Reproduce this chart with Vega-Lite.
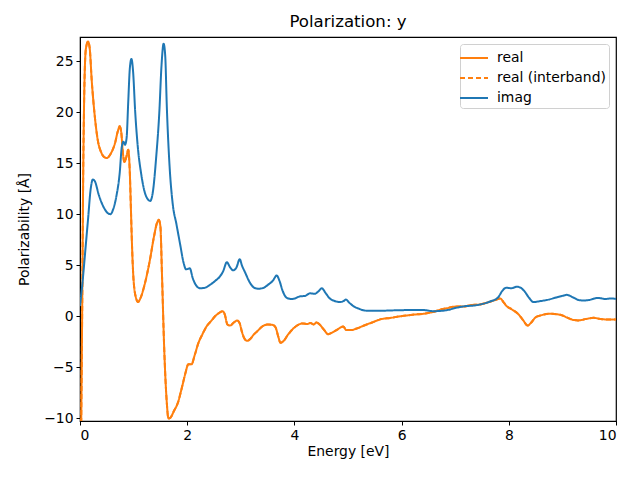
{
  "$schema": "https://vega.github.io/schema/vega-lite/v6.json",
  "autosize": {"type": "none"},
  "padding": {"left": 80, "top": 37, "right": 24, "bottom": 59},
  "width": 536,
  "height": 384,
  "background": "white",
  "title": {"text": "Polarization: y", "fontSize": 16.6, "fontWeight": "normal", "font": "DejaVu Sans", "color": "black", "offset": 6},
  "config": {
    "font": "DejaVu Sans",
    "view": {"stroke": "black", "strokeWidth": 1.2},
    "axis": {"grid": false, "domainColor": "black", "tickColor": "black", "tickSize": 4, "labelFontSize": 13.9, "titleFontSize": 13.9, "titleFontWeight": "normal", "labelColor": "black", "titleColor": "black", "labelPadding": 3, "labelFont": "DejaVu Sans", "titleFont": "DejaVu Sans"}
  },
  "datasets": {
    "realdata": [
      {"e":0.02,"real":-12,"real (interband)":-12},
      {"e":0.04,"real":0,"real (interband)":0},
      {"e":0.06,"real":14,"real (interband)":14},
      {"e":0.08,"real":22,"real (interband)":22},
      {"e":0.11,"real":26.2,"real (interband)":26.2},
      {"e":0.15,"real":26.9,"real (interband)":26.9},
      {"e":0.18,"real":26.3,"real (interband)":26.3},
      {"e":0.22,"real":23,"real (interband)":23},
      {"e":0.27,"real":19.9,"real (interband)":19.9},
      {"e":0.33,"real":17.3,"real (interband)":17.3},
      {"e":0.4,"real":16.0,"real (interband)":16.0},
      {"e":0.45,"real":15.6,"real (interband)":15.6},
      {"e":0.5,"real":15.5,"real (interband)":15.5},
      {"e":0.57,"real":15.9,"real (interband)":15.9},
      {"e":0.65,"real":16.9,"real (interband)":16.9},
      {"e":0.71,"real":18.2,"real (interband)":18.2},
      {"e":0.74,"real":18.6,"real (interband)":18.6},
      {"e":0.77,"real":18.0,"real (interband)":18.0},
      {"e":0.8,"real":16,"real (interband)":16},
      {"e":0.83,"real":15.1,"real (interband)":15.1},
      {"e":0.86,"real":15.5,"real (interband)":15.5},
      {"e":0.9,"real":16.3,"real (interband)":16.3},
      {"e":0.93,"real":14,"real (interband)":14},
      {"e":0.95,"real":10.5,"real (interband)":10.5},
      {"e":0.97,"real":7,"real (interband)":7},
      {"e":1.0,"real":3.5,"real (interband)":3.5},
      {"e":1.05,"real":1.7,"real (interband)":1.7},
      {"e":1.08,"real":1.4,"real (interband)":1.4},
      {"e":1.13,"real":1.8,"real (interband)":1.8},
      {"e":1.2,"real":3.0,"real (interband)":3.0},
      {"e":1.3,"real":5.4,"real (interband)":5.4},
      {"e":1.38,"real":7.8,"real (interband)":7.8},
      {"e":1.44,"real":9.2,"real (interband)":9.2},
      {"e":1.47,"real":9.45,"real (interband)":9.45},
      {"e":1.5,"real":8.8,"real (interband)":8.8},
      {"e":1.53,"real":4,"real (interband)":4},
      {"e":1.57,"real":-3,"real (interband)":-3},
      {"e":1.62,"real":-8.5,"real (interband)":-8.5},
      {"e":1.65,"real":-10.0,"real (interband)":-10.0},
      {"e":1.69,"real":-9.9,"real (interband)":-9.9},
      {"e":1.75,"real":-9.3,"real (interband)":-9.3},
      {"e":1.83,"real":-8.4,"real (interband)":-8.4},
      {"e":1.9,"real":-7.0,"real (interband)":-7.0},
      {"e":1.97,"real":-5.5,"real (interband)":-5.5},
      {"e":2.02,"real":-4.7,"real (interband)":-4.7},
      {"e":2.08,"real":-4.7,"real (interband)":-4.7},
      {"e":2.14,"real":-3.8,"real (interband)":-3.8},
      {"e":2.21,"real":-2.6,"real (interband)":-2.6},
      {"e":2.28,"real":-1.8,"real (interband)":-1.8},
      {"e":2.36,"real":-1.0,"real (interband)":-1.0},
      {"e":2.44,"real":-0.5,"real (interband)":-0.5},
      {"e":2.52,"real":0.0,"real (interband)":0.0},
      {"e":2.6,"real":0.35,"real (interband)":0.35},
      {"e":2.66,"real":0.5,"real (interband)":0.5},
      {"e":2.7,"real":0.2,"real (interband)":0.2},
      {"e":2.75,"real":-0.8,"real (interband)":-0.8},
      {"e":2.8,"real":-0.9,"real (interband)":-0.9},
      {"e":2.87,"real":-0.6,"real (interband)":-0.6},
      {"e":2.93,"real":-0.4,"real (interband)":-0.4},
      {"e":2.98,"real":-0.7,"real (interband)":-0.7},
      {"e":3.02,"real":-1.5,"real (interband)":-1.5},
      {"e":3.06,"real":-2.1,"real (interband)":-2.1},
      {"e":3.12,"real":-2.4,"real (interband)":-2.4},
      {"e":3.18,"real":-2.2,"real (interband)":-2.2},
      {"e":3.24,"real":-1.8,"real (interband)":-1.8},
      {"e":3.3,"real":-1.5,"real (interband)":-1.5},
      {"e":3.4,"real":-1.0,"real (interband)":-1.0},
      {"e":3.5,"real":-0.8,"real (interband)":-0.8},
      {"e":3.6,"real":-0.85,"real (interband)":-0.85},
      {"e":3.65,"real":-1.1,"real (interband)":-1.1},
      {"e":3.7,"real":-2.0,"real (interband)":-2.0},
      {"e":3.74,"real":-2.6,"real (interband)":-2.6},
      {"e":3.8,"real":-2.4,"real (interband)":-2.4},
      {"e":3.88,"real":-1.8,"real (interband)":-1.8},
      {"e":3.96,"real":-1.3,"real (interband)":-1.3},
      {"e":4.05,"real":-0.9,"real (interband)":-0.9},
      {"e":4.15,"real":-0.7,"real (interband)":-0.7},
      {"e":4.25,"real":-0.75,"real (interband)":-0.75},
      {"e":4.3,"real":-0.65,"real (interband)":-0.65},
      {"e":4.36,"real":-0.8,"real (interband)":-0.8},
      {"e":4.41,"real":-0.6,"real (interband)":-0.6},
      {"e":4.47,"real":-0.8,"real (interband)":-0.8},
      {"e":4.55,"real":-1.3,"real (interband)":-1.3},
      {"e":4.63,"real":-1.75,"real (interband)":-1.75},
      {"e":4.7,"real":-1.6,"real (interband)":-1.6},
      {"e":4.8,"real":-1.3,"real (interband)":-1.3},
      {"e":4.91,"real":-1.0,"real (interband)":-1.0},
      {"e":4.97,"real":-1.35,"real (interband)":-1.35},
      {"e":5.05,"real":-1.35,"real (interband)":-1.35},
      {"e":5.16,"real":-1.2,"real (interband)":-1.2},
      {"e":5.3,"real":-0.9,"real (interband)":-0.9},
      {"e":5.45,"real":-0.6,"real (interband)":-0.6},
      {"e":5.6,"real":-0.3,"real (interband)":-0.3},
      {"e":5.8,"real":-0.15,"real (interband)":-0.15},
      {"e":5.97,"real":0.0,"real (interband)":0.0},
      {"e":6.2,"real":0.15,"real (interband)":0.15},
      {"e":6.47,"real":0.3,"real (interband)":0.3},
      {"e":6.6,"real":0.45,"real (interband)":0.45},
      {"e":6.72,"real":0.65,"real (interband)":0.65},
      {"e":6.85,"real":0.8,"real (interband)":0.8},
      {"e":7.0,"real":0.95,"real (interband)":0.95},
      {"e":7.15,"real":0.95,"real (interband)":0.95},
      {"e":7.3,"real":1.1,"real (interband)":1.1},
      {"e":7.45,"real":1.15,"real (interband)":1.15},
      {"e":7.6,"real":1.35,"real (interband)":1.35},
      {"e":7.75,"real":1.6,"real (interband)":1.6},
      {"e":7.84,"real":1.75,"real (interband)":1.75},
      {"e":7.9,"real":1.4,"real (interband)":1.4},
      {"e":7.96,"real":1.0,"real (interband)":1.0},
      {"e":8.05,"real":0.7,"real (interband)":0.7},
      {"e":8.18,"real":0.2,"real (interband)":0.2},
      {"e":8.27,"real":-0.4,"real (interband)":-0.4},
      {"e":8.35,"real":-0.9,"real (interband)":-0.9},
      {"e":8.42,"real":-0.6,"real (interband)":-0.6},
      {"e":8.5,"real":-0.1,"real (interband)":-0.1},
      {"e":8.6,"real":0.1,"real (interband)":0.1},
      {"e":8.77,"real":0.25,"real (interband)":0.25},
      {"e":8.96,"real":0.15,"real (interband)":0.15},
      {"e":9.1,"real":-0.15,"real (interband)":-0.15},
      {"e":9.2,"real":-0.35,"real (interband)":-0.35},
      {"e":9.3,"real":-0.4,"real (interband)":-0.4},
      {"e":9.45,"real":-0.25,"real (interband)":-0.25},
      {"e":9.58,"real":-0.15,"real (interband)":-0.15},
      {"e":9.7,"real":-0.25,"real (interband)":-0.25},
      {"e":9.8,"real":-0.3,"real (interband)":-0.3},
      {"e":10.0,"real":-0.3,"real (interband)":-0.3}
    ],
    "imagdata": [
      {"e":0.0,"imag":1.0},{"e":0.05,"imag":3.5},{"e":0.1,"imag":6.5},{"e":0.15,"imag":9.5},
      {"e":0.2,"imag":12.5},{"e":0.24,"imag":13.4},{"e":0.28,"imag":13.2},{"e":0.35,"imag":11.9},
      {"e":0.45,"imag":10.6},{"e":0.52,"imag":10.1},{"e":0.57,"imag":10.0},{"e":0.62,"imag":10.5},
      {"e":0.68,"imag":11.8},{"e":0.74,"imag":14.0},{"e":0.78,"imag":16.6},{"e":0.81,"imag":17.1},
      {"e":0.84,"imag":16.8},{"e":0.87,"imag":17.5},{"e":0.9,"imag":21},{"e":0.93,"imag":24.3},
      {"e":0.96,"imag":25.2},{"e":0.99,"imag":24},{"e":1.03,"imag":20},{"e":1.08,"imag":16.5},
      {"e":1.14,"imag":14.0},{"e":1.2,"imag":12.3},{"e":1.26,"imag":11.5},{"e":1.31,"imag":11.3},
      {"e":1.36,"imag":12.2},{"e":1.42,"imag":15.5},{"e":1.48,"imag":20},{"e":1.52,"imag":24.5},
      {"e":1.56,"imag":26.7},{"e":1.59,"imag":25.5},{"e":1.62,"imag":20.5},{"e":1.67,"imag":14.8},
      {"e":1.73,"imag":11.0},{"e":1.8,"imag":9.0},{"e":1.87,"imag":7.0},{"e":1.93,"imag":5.3},
      {"e":1.98,"imag":4.6},{"e":2.05,"imag":4.7},{"e":2.1,"imag":3.8},{"e":2.17,"imag":3.0},
      {"e":2.24,"imag":2.75},{"e":2.33,"imag":2.8},{"e":2.43,"imag":3.1},{"e":2.53,"imag":3.5},
      {"e":2.61,"imag":3.9},{"e":2.67,"imag":4.4},{"e":2.74,"imag":5.3},{"e":2.8,"imag":4.8},
      {"e":2.86,"imag":4.5},{"e":2.92,"imag":4.8},{"e":2.98,"imag":5.6},{"e":3.02,"imag":5.0},
      {"e":3.08,"imag":4.3},{"e":3.17,"imag":3.3},{"e":3.25,"imag":2.8},{"e":3.33,"imag":2.7},
      {"e":3.43,"imag":2.8},{"e":3.51,"imag":3.1},{"e":3.6,"imag":3.5},{"e":3.67,"imag":4.0},
      {"e":3.72,"imag":3.5},{"e":3.78,"imag":2.5},{"e":3.86,"imag":1.8},{"e":3.95,"imag":1.7},
      {"e":4.01,"imag":1.75},{"e":4.1,"imag":1.95},{"e":4.2,"imag":2.0},{"e":4.29,"imag":2.25},
      {"e":4.38,"imag":2.2},{"e":4.45,"imag":2.45},{"e":4.51,"imag":2.75},{"e":4.58,"imag":2.3},
      {"e":4.65,"imag":1.8},{"e":4.75,"imag":1.5},{"e":4.85,"imag":1.4},{"e":4.92,"imag":1.5},
      {"e":4.96,"imag":1.65},{"e":5.02,"imag":1.35},{"e":5.1,"imag":1.0},{"e":5.2,"imag":0.75},
      {"e":5.35,"imag":0.55},{"e":5.6,"imag":0.55},{"e":5.97,"imag":0.6},{"e":6.4,"imag":0.62},
      {"e":6.59,"imag":0.5},{"e":6.84,"imag":0.6},{"e":7.03,"imag":0.85},{"e":7.2,"imag":1.0},
      {"e":7.34,"imag":1.05},{"e":7.5,"imag":1.2},{"e":7.65,"imag":1.45},{"e":7.8,"imag":1.85},
      {"e":7.88,"imag":2.5},{"e":7.95,"imag":2.8},{"e":8.05,"imag":2.75},{"e":8.15,"imag":2.9},
      {"e":8.22,"imag":2.8},{"e":8.3,"imag":2.4},{"e":8.38,"imag":1.8},{"e":8.46,"imag":1.4},
      {"e":8.6,"imag":1.5},{"e":8.71,"imag":1.6},{"e":8.89,"imag":1.85},{"e":9.0,"imag":2.0},
      {"e":9.08,"imag":2.1},{"e":9.2,"imag":1.85},{"e":9.3,"imag":1.6},{"e":9.39,"imag":1.55},
      {"e":9.5,"imag":1.6},{"e":9.6,"imag":1.75},{"e":9.67,"imag":1.8},{"e":9.8,"imag":1.7},
      {"e":9.9,"imag":1.75},{"e":10.0,"imag":1.7}
    ]
  },
  "encoding": {
    "x": {"field": "e", "type": "quantitative", "title": "Energy [eV]",
      "scale": {"domain": [0, 10], "nice": false, "zero": false},
      "axis": {"values": [0, 2, 4, 6, 8, 10], "titlePadding": 3}},
    "y": {"field": "value", "type": "quantitative", "title": "Polarizability [Å]",
      "scale": {"domain": [-10.25, 27.35], "nice": false, "zero": false},
      "axis": {"values": [-10, -5, 0, 5, 10, 15, 20, 25], "titlePadding": 12}},
    "color": {"field": "series", "type": "nominal",
      "scale": {"domain": ["real", "real (interband)", "imag"], "range": ["#ff7f0e", "#ff7f0e", "#1f77b4"]},
      "legend": {"title": null, "orient": "top-right", "offset": 7, "strokeColor": "#d0d0d0", "fillColor": "white", "cornerRadius": 3, "padding": 3, "labelFontSize": 13.9, "labelFont": "DejaVu Sans", "labelColor": "black", "symbolType": "M-1.4,0H1.4", "symbolSize": 400, "symbolStrokeWidth": 2, "symbolFillColor": "transparent", "rowPadding": 2, "labelOffset": 12}},
    "strokeDash": {"field": "series", "type": "nominal",
      "scale": {"domain": ["real", "real (interband)", "imag"], "range": [[1, 0], [5, 3], [1, 0]]},
      "legend": {"title": null}}
  },
  "layer": [
    {
      "data": {"name": "realdata"},
      "transform": [{"fold": ["real (interband)", "real"], "as": ["series", "value"]}],
      "mark": {"type": "line", "strokeWidth": 2, "interpolate": "monotone", "clip": true}
    },
    {
      "data": {"name": "imagdata"},
      "transform": [{"fold": ["imag"], "as": ["series", "value"]}],
      "mark": {"type": "line", "strokeWidth": 2, "interpolate": "monotone", "clip": true}
    }
  ]
}
